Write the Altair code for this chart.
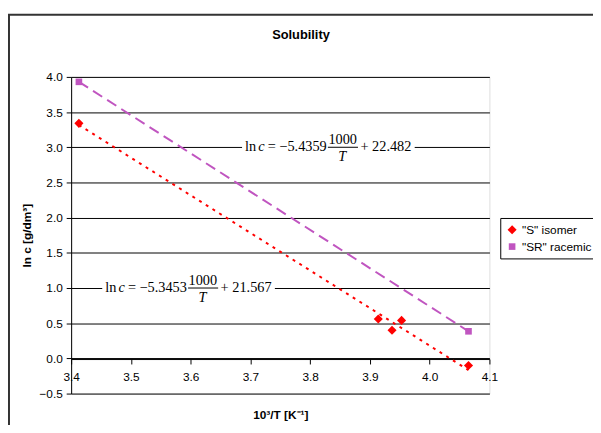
import altair as alt
import pandas as pd

# ---- data ----
series_names = ['"S" isomer', '"SR" racemic']
s_x = [3.413, 3.914, 3.937, 3.953, 4.065]
s_y = [3.34, 0.56, 0.40, 0.54, -0.10]
sr_x = [3.413, 4.065]
sr_y = [3.93, 0.385]

eq_slope_txt = ["= \u22125.4359", "= \u22125.3453"]
eq_icpt_txt = ["+ 22.482", "+ 21.567"]
eq_x = [3.691, 3.457]
eq_y = [3.0, 1.0]

x_ticks = [3.4, 3.5, 3.6, 3.7, 3.8, 3.9, 4.0, 4.1]
y_ticks = [-0.5, 0.0, 0.5, 1.0, 1.5, 2.0, 2.5, 3.0, 3.5, 4.0]
chart_title = "Solubility"

pts = pd.DataFrame({
    "x": s_x + sr_x,
    "y": s_y + sr_y,
    "series": [series_names[0]] * len(s_x) + [series_names[1]] * len(sr_x),
})
eqs = pd.DataFrame({"x": eq_x, "y": eq_y, "slope": eq_slope_txt, "icpt": eq_icpt_txt})

SANS = "Liberation Sans"
SERIF = "Liberation Serif"
PURPLE = "#C055C0"

xs = alt.Scale(domain=[3.4, 4.1], nice=False, zero=False)
ys = alt.Scale(domain=[-0.5, 4.0], nice=False, zero=False)

x_axis = alt.Axis(values=x_ticks, format=".1f", title="10\u00b3/T [K\u207b\u00b9]",
                  offset=-35, grid=False, domainColor="black", tickColor="black",
                  tickSize=5, labelPadding=8, labelFont=SANS, labelFontSize=12,
                  labelColor="black", titleFont=SANS, titleFontSize=12, titleFontWeight="bold",
                  titleColor="black", titlePadding=27, labelFlush=False, labelOverlap=False)
y_axis = alt.Axis(values=y_ticks, format=".1f", title="ln c [g/dm\u00b3]", grid=True,
                  gridColor="black", gridWidth=1, domainColor="black", tickColor="black",
                  tickSize=5, labelPadding=4, labelFont=SANS, labelFontSize=12,
                  labelColor="black", titleFont=SANS, titleFontSize=12, titleFontWeight="bold",
                  titleColor="black", titlePadding=6, labelFlush=False, labelOverlap=False)

X = alt.X("x:Q", scale=xs, axis=x_axis)
Y = alt.Y("y:Q", scale=ys, axis=y_axis)

# white boxes behind equations
eq_box = alt.Chart(eqs).mark_rect(color="white", xOffset=-3, x2Offset=172,
                                  yOffset=-17, y2Offset=17).encode(x=X, x2="x", y=Y, y2="y")

def piece(field=None, text=None, dx=0, dy=4, italic=False, align="left"):
    enc = {"x": X, "y": Y}
    if field:
        enc["text"] = alt.Text(field + ":N")
    else:
        enc["text"] = alt.value(text)
    return alt.Chart(eqs).mark_text(font=SERIF, fontSize=14.5, color="black", align=align,
                                    baseline="alphabetic", dx=dx, dy=dy,
                                    fontStyle="italic" if italic else "normal").encode(**enc)

ln_t = piece(text="ln", dx=0)
c_t = piece(text="c", dx=13.5, italic=True)
sl_t = piece(field="slope", dx=23)
num_t = piece(text="1000", dx=99, dy=-3.5, align="center")
den_t = piece(text="T", dx=98.5, dy=14, italic=True, align="center")
ic_t = piece(field="icpt", dx=117)
bar = alt.Chart(eqs).mark_rule(color="black", strokeWidth=1, xOffset=84, x2Offset=114.5).encode(
    x=X, x2="x", y=Y)

# trendlines
tr_s = alt.Chart(pts).transform_filter(alt.datum.series == series_names[0]).transform_regression(
    "x", "y").mark_line(color="red", strokeDash=[3, 5], strokeWidth=2).encode(x=X, y=Y)
tr_sr = alt.Chart(pts).transform_filter(alt.datum.series == series_names[1]).transform_regression(
    "x", "y").mark_line(color=PURPLE, strokeDash=[11, 6], strokeWidth=2).encode(x=X, y=Y)

legend = alt.Legend(orient="none", legendX=435, legendY=143, title=None, strokeColor="black",
                    fillColor="white", padding=6, labelFont=SANS, labelFontSize=12,
                    labelColor="black", symbolSize=50, rowPadding=5, labelOffset=4,
                    symbolStrokeWidth=0, cornerRadius=0)

points = alt.Chart(pts).mark_point(filled=True, opacity=1).encode(
    x=X, y=Y,
    color=alt.Color("series:N", scale=alt.Scale(domain=series_names, range=["red", PURPLE]), legend=legend),
    shape=alt.Shape("series:N", scale=alt.Scale(domain=series_names, range=["diamond", "square"]), legend=legend),
    size=alt.Size("series:N", scale=alt.Scale(domain=series_names, range=[85, 45]), legend=None),
)

title_mark = alt.Chart(pd.DataFrame({"t": [chart_title]})).mark_text(
    font=SANS, fontSize=13, fontWeight="bold", color="black", align="center", baseline="middle"
).encode(text="t:N", x=alt.value(233), y=alt.value(-42))

frame = alt.Chart(pd.DataFrame({"a": [0]})).mark_rect(filled=False, stroke="#333333", strokeWidth=2).encode(
    x=alt.value(-63), y=alt.value(-63), x2=alt.value(900), y2=alt.value(900))

chart = alt.layer(eq_box, tr_s, tr_sr, ln_t, c_t, sl_t, num_t, den_t, ic_t, bar, points,
                  title_mark, frame).properties(
    width=424, height=321,
    autosize=alt.AutoSizeParams(type="none"),
    padding={"left": 64, "top": 67, "right": 105, "bottom": 29},
).configure_view(stroke="#808080", strokeWidth=1).configure(background="white")

chart.save("out.html", embed_options={"renderer": "svg", "actions": False})
